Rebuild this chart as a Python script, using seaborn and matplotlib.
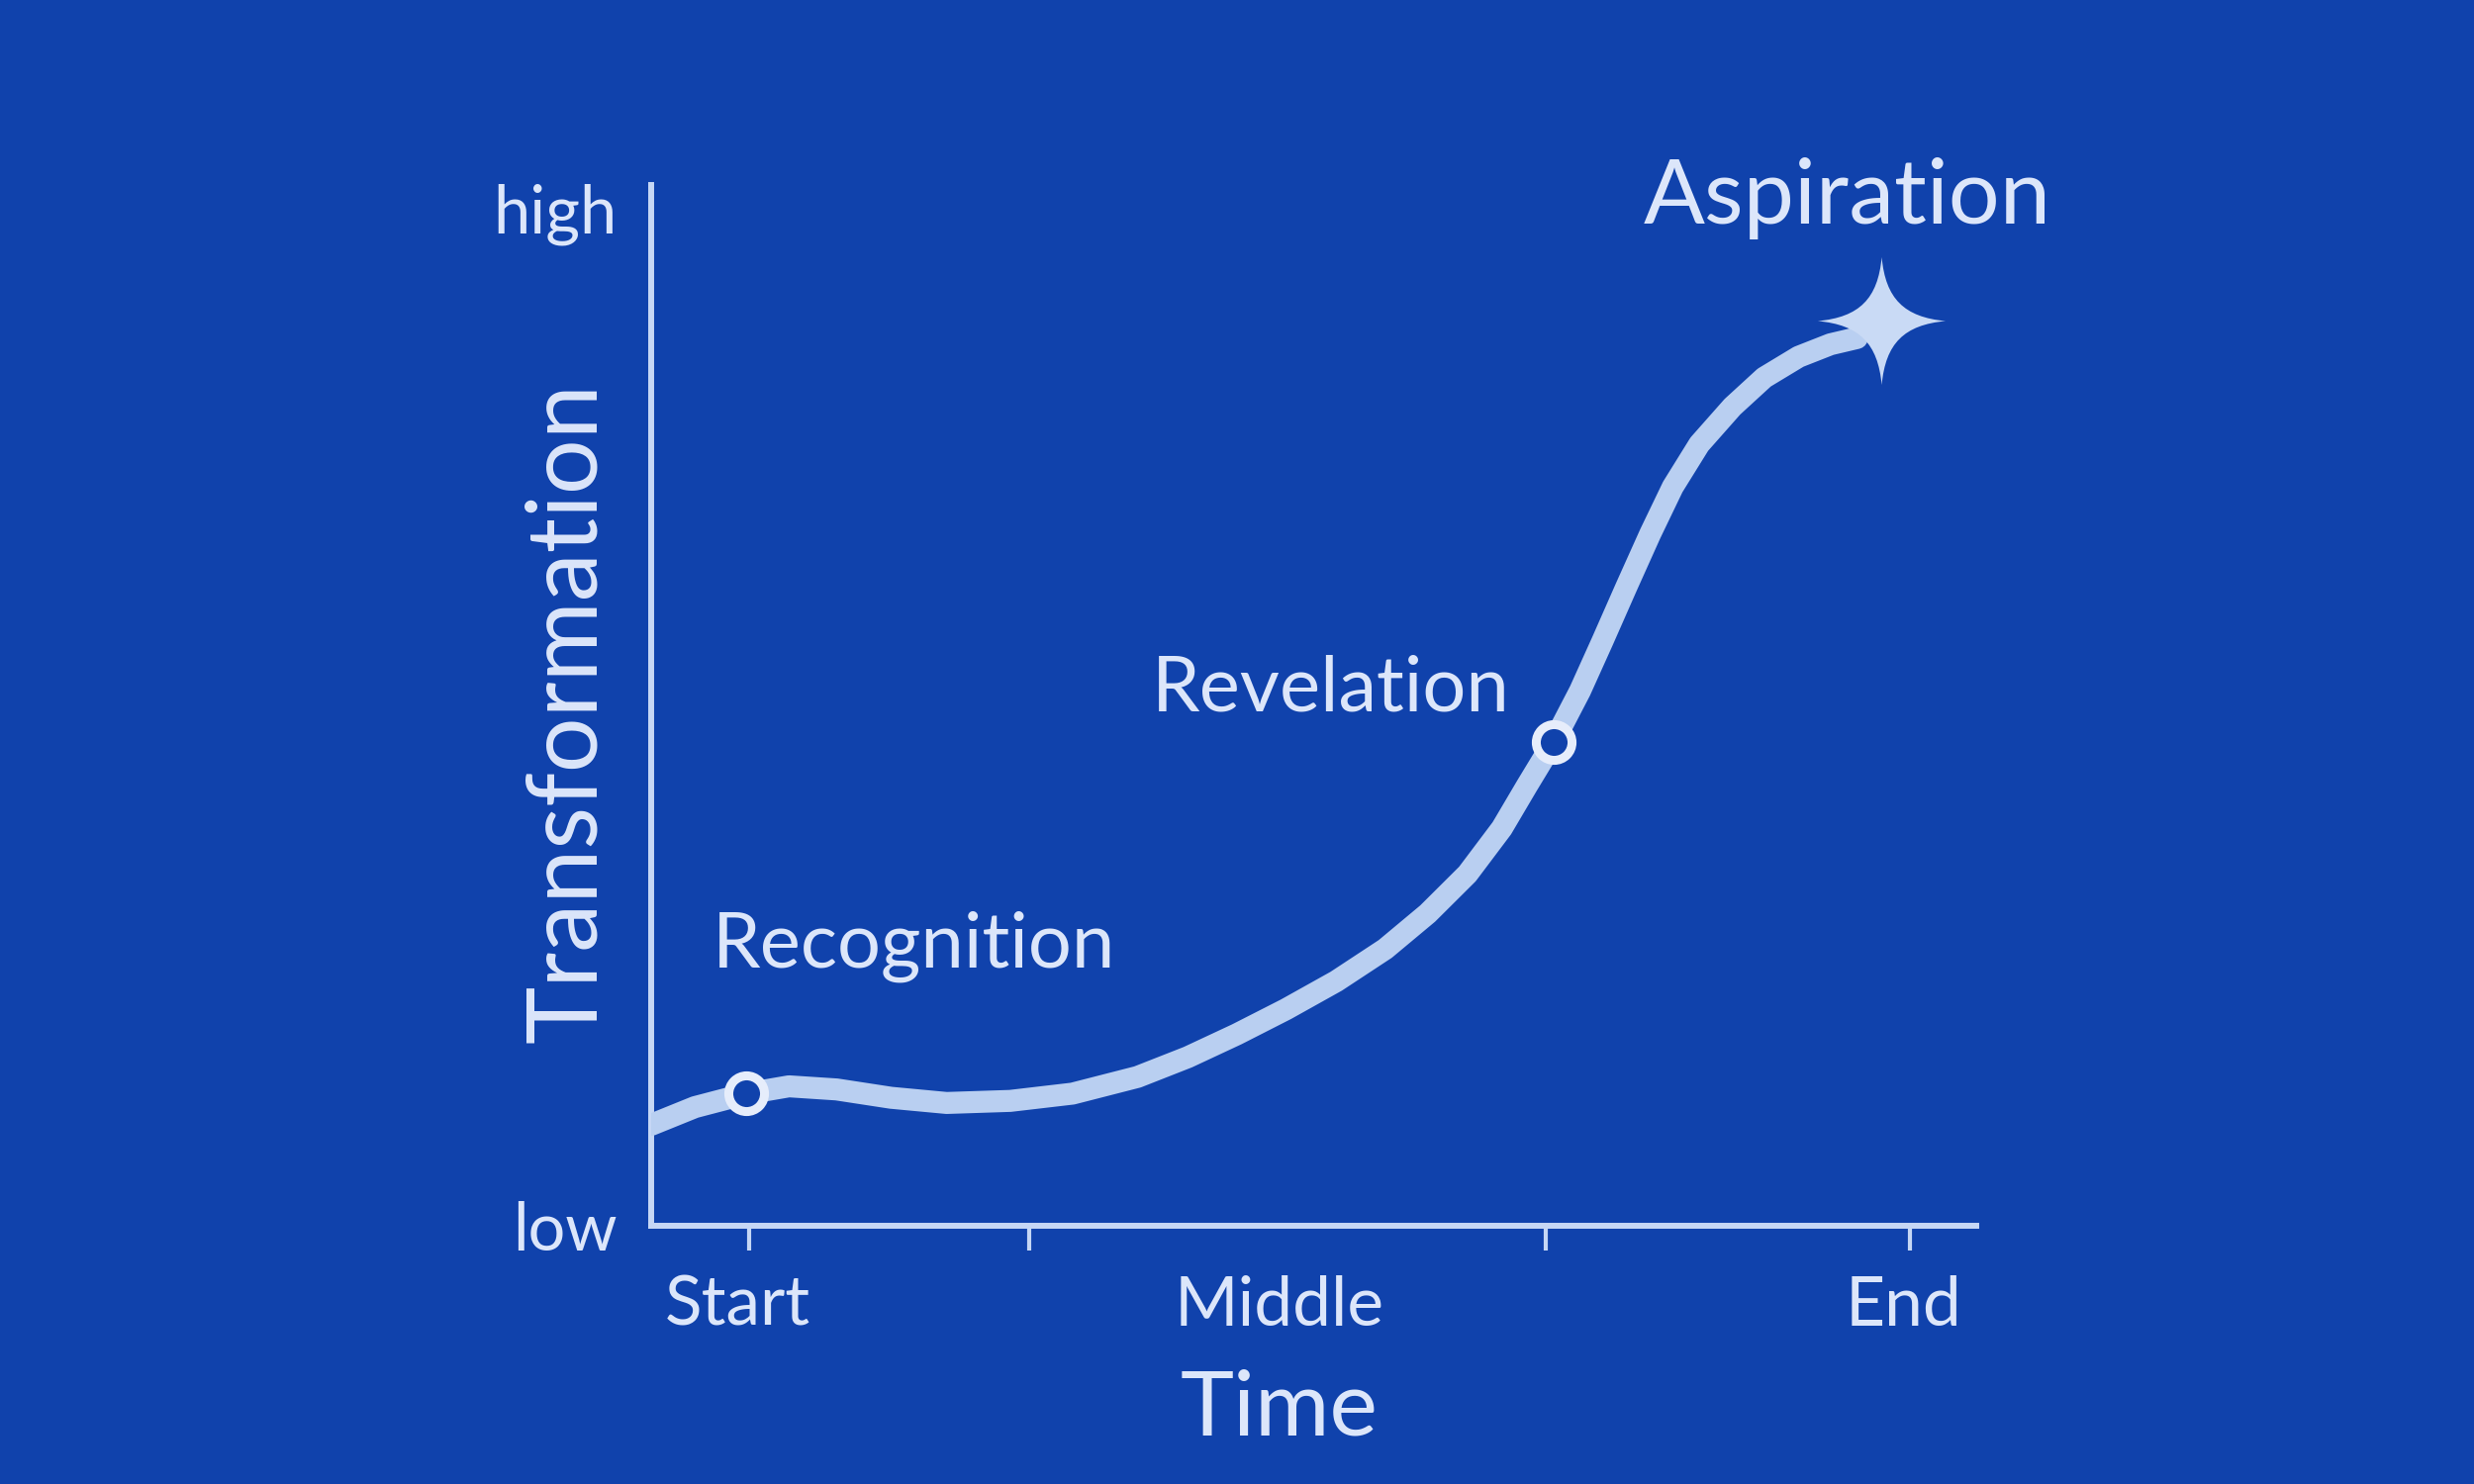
import numpy as np
import pandas as pd
import matplotlib.pyplot as plt
import seaborn as sns
from matplotlib.path import Path

bg = '#1042AC'
curve_col = '#B9CFF1'
ring_col = '#E6EDFB'
star_col = '#C9DAF5'
text_col = '#DCE6FA'
axis_col = '#C6D7F5'

sns.set_style('white', {'axes.facecolor': bg, 'figure.facecolor': bg})
plt.rcParams['font.family'] = ['Lato', 'DejaVu Sans']

# curve (time 0-100, transformation 0-100)
time = [0, 3.3, 7.2, 10.4, 14.0, 18.1, 22.3, 27.1, 31.8, 36.7, 40.5, 44.2, 47.9,
        51.7, 55.4, 58.6, 61.6, 64.2, 66.1, 68.1, 70.1, 71.8, 73.6, 75.4, 77.1,
        79.1, 81.6, 84.0, 86.6, 89.0, 91.0]
transformation = [9.7, 11.4, 12.7, 13.4, 13.1, 12.3, 11.8, 12.0, 12.7, 14.3, 16.2,
                  18.4, 20.8, 23.5, 26.6, 30.0, 33.8, 38.2, 42.3, 46.5, 51.4, 56.2,
                  61.4, 66.5, 71.0, 75.1, 78.7, 81.5, 83.5, 84.7, 85.3]

milestone_names = ['Recognition', 'Revelation']
milestone_time = [7.2, 68.1]
milestone_level = [12.7, 46.5]

goal_name = 'Aspiration'
goal_time = [92.8]
goal_level = [87.0]

tick_pos = [7.4, 28.5, 67.5, 95.0]
tick_label_pos = [6.5, 47.4, 94.5]
tick_labels = ['Start', 'Middle', 'End']
level_pos = [0, 97.8]
level_labels = ['low', 'high']

df = pd.DataFrame({'time': time, 'transformation': transformation})

fig = plt.figure(figsize=(25, 15), dpi=100)
ax = fig.add_axes([0.2632, 0.174, 0.5356, 0.7013])

sns.lineplot(data=df, x='time', y='transformation', ax=ax, color=curve_col,
             linewidth=16, solid_capstyle='round', solid_joinstyle='round',
             estimator=None, zorder=3)

sns.scatterplot(x=milestone_time, y=milestone_level, ax=ax, s=26 ** 2,
                color=bg, edgecolor=ring_col, linewidth=6.5, zorder=4)

# four pointed sparkle
star = Path([(0, 1), (0.06, 0.35), (0.35, 0.06), (1, 0),
             (0.35, -0.06), (0.06, -0.35), (0, -1),
             (-0.06, -0.35), (-0.35, -0.06), (-1, 0),
             (-0.35, 0.06), (-0.06, 0.35), (0, 1)],
            [Path.MOVETO] + [Path.CURVE4] * 12)
sns.scatterplot(x=goal_time, y=goal_level, ax=ax, marker=star, s=93 ** 2,
                color=star_col, linewidth=0, zorder=5)

for name, t, lv in zip(milestone_names, [4.6, 37.8], [26.8, 51.5]):
    ax.text(t, lv, name, fontsize=56, color=text_col, ha='left', va='center')
ax.text(74.9, 98.7, goal_name, fontsize=66, color=text_col, ha='left', va='center')

ax.set_xlim(0, 100)
ax.set_ylim(0, 100)

ax.set_xticks(tick_pos)
ax.set_xticklabels([])
ax.set_xticks(tick_label_pos, tick_labels, minor=True)
ax.tick_params(axis='x', which='major', length=18, width=3, color=axis_col,
               direction='out', bottom=True)
ax.tick_params(axis='x', which='minor', length=0, pad=36, labelsize=50,
               labelcolor=text_col, bottom=True)
ax.set_yticks(level_pos, level_labels)
ax.tick_params(axis='y', length=0, pad=25, labelsize=48, labelcolor=text_col)

ax.set_xlabel('Time', fontsize=66, color=text_col, va='center')
ax.xaxis.set_label_coords(0.474, -0.177)
ax.set_ylabel('Transformation', fontsize=71, color=text_col, va='center')
ax.yaxis.set_label_coords(-0.063, 0.493)

sns.despine(ax=ax)
for side in ['left', 'bottom']:
    ax.spines[side].set_color(axis_col)
    ax.spines[side].set_linewidth(4.3)

fig.savefig('out.png', dpi=100, facecolor=bg)
